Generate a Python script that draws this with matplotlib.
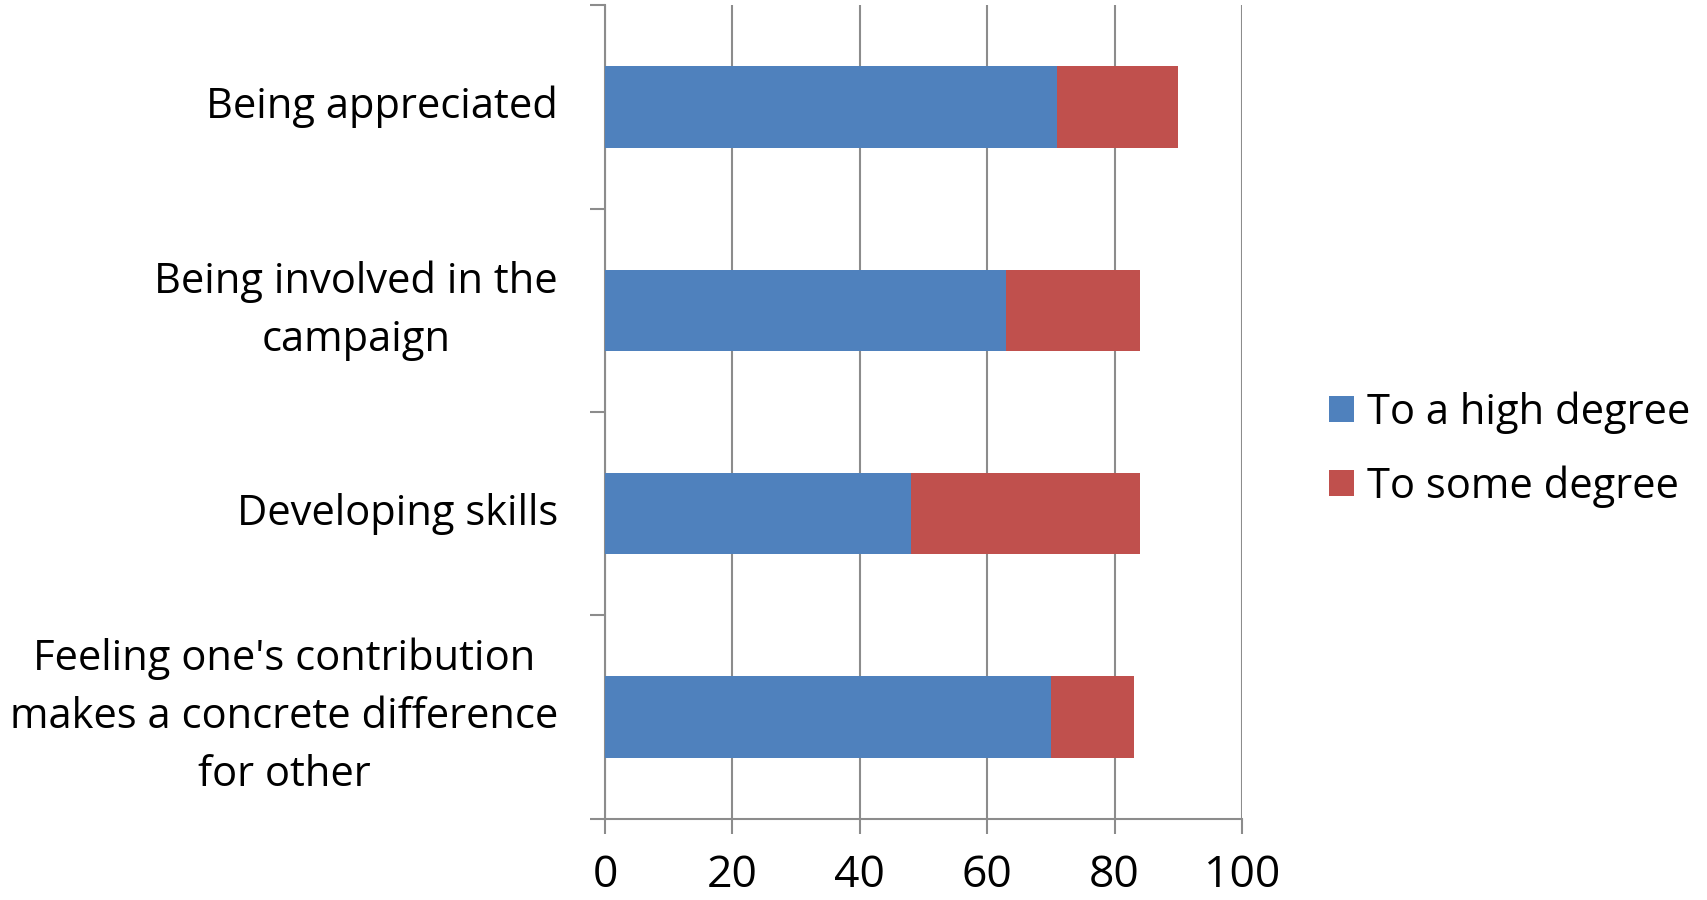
import numpy as np
import matplotlib.pyplot as plt
import matplotlib.transforms as mtransforms

plt.rcParams['font.family'] = ['Open Sans', 'DejaVu Sans']

categories = ['Being appreciated', 'Being involved in the\ncampaign', 'Developing skills',
              "Feeling one's contribution\nmakes a concrete difference\nfor other"]
high_degree = [71, 63, 48, 70]
some_degree = [19, 21, 36, 13]
x_ticks = [0, 20, 40, 60, 80, 100]

blue = '#4f81bd'
red = '#c0504d'

fig = plt.figure(figsize=(17.07, 9), dpi=100)
ax = fig.add_axes([0.3544, 0.0904, 0.3732, 0.9036])

y = np.arange(len(categories))
ax.barh(y, high_degree, height=0.4, color=blue, label='To a high degree', zorder=3)
ax.barh(y, some_degree, left=high_degree, height=0.4, color=red, label='To some degree', zorder=3)

ax.set_ylim(len(categories) - 0.5, -0.5)
ax.set_xlim(0, 100)
ax.set_xticks(x_ticks)
ax.set_xticklabels([str(v) for v in x_ticks], fontsize=32)
ax.grid(axis='x', color='#8c8c8c', linewidth=1.5, zorder=0)

# category labels as text: right aligned block, centered lines
ax.set_yticks(np.arange(len(categories) + 1) - 0.5)
ax.set_yticklabels([])
offset = mtransforms.ScaledTranslation(-47 / 100, 0, fig.dpi_scale_trans)
for yi, lab in zip(y, categories):
    ax.text(0, yi, lab, transform=ax.get_yaxis_transform() + offset, ha='right', va='center',
            fontsize=30, multialignment='center', linespacing=1.5)

for s in ['top', 'right']:
    ax.spines[s].set_visible(False)
ax.spines['left'].set_color('#8c8c8c')
ax.spines['bottom'].set_color('#8c8c8c')
ax.spines['left'].set_linewidth(1.5)
ax.spines['bottom'].set_linewidth(1.5)
ax.tick_params(axis='x', direction='out', length=11, width=1.5, color='#8c8c8c', pad=14)
ax.tick_params(axis='y', direction='out', length=11, width=1.5, color='#8c8c8c')

ax.legend(loc='center left', bbox_to_anchor=(1.137, 0.454), frameon=False, fontsize=30,
          handlelength=0.6, handleheight=0.6, handletextpad=0.3, labelspacing=0.75,
          borderpad=0, borderaxespad=0)

fig.savefig('out.png', dpi=100)
